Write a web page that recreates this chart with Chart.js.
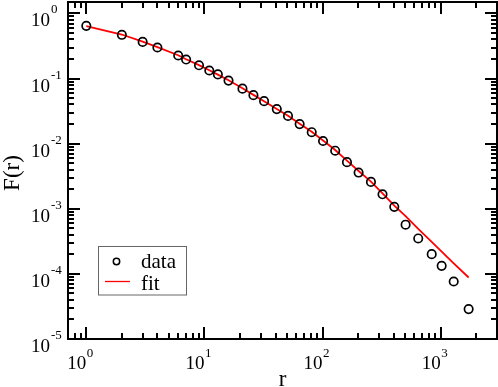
<!DOCTYPE html>
<html>
<head>
<meta charset="utf-8">
<script src="https://cdn.jsdelivr.net/npm/chart.js@4"></script>
<style>
html,body{margin:0;padding:0;background:#fff;}
canvas{display:block;}
</style>
</head>
<body>
<canvas id="c" width="498" height="387"></canvas>
<script>
const rValues = [1, 2, 3, 4, 6, 7, 9, 11, 13, 16, 21, 26, 32, 41, 51, 64, 81, 101, 128, 161, 202, 257, 322, 405, 505, 646, 840, 1020, 1290, 1726];
const dataValues = [0.645, 0.47, 0.366, 0.30, 0.226, 0.196, 0.16, 0.133, 0.116, 0.093, 0.070, 0.0556, 0.045, 0.034, 0.0267, 0.020, 0.015, 0.011, 0.0078, 0.0052, 0.0036, 0.00259, 0.00167, 0.00107, 0.00057, 0.00035, 0.000201, 0.000133, 0.0000764, 0.0000288];
const fitValues = [0.64, 0.475, 0.37, 0.305, 0.228, 0.198, 0.161, 0.134, 0.115, 0.094, 0.071, 0.0562, 0.0448, 0.0342, 0.0268, 0.0203, 0.0152, 0.0112, 0.0080, 0.0055, 0.0038, 0.00262, 0.00172, 0.00112, 0.00077, 0.00049, 0.00031, 0.000219, 0.000145, 0.000088];
const xTickExps = [0, 1, 2, 3];
const yTickExps = [0, -1, -2, -3, -4, -5];
const legendLabels = ["data", "fit"];
const axisTitles = {x: "r", y: "F(r)"};

const SERIF = '"Liberation Serif", "DejaVu Serif", serif';

const decorPlugin = {
  id: 'decor',
  afterDraw(chart) {
    const ctx = chart.ctx;
    const a = chart.chartArea;
    const xs = chart.scales.x, ys = chart.scales.y;
    ctx.save();
    ctx.strokeStyle = '#000';
    ctx.lineWidth = 2;
    ctx.strokeRect(a.left, a.top, a.right - a.left, a.bottom - a.top);
    // ticks
    ctx.lineWidth = 2;
    const major = 12, minor = 6;
    ctx.beginPath();
    for (let e = -1; e <= 4; e++) {
      for (let m = 1; m <= 9; m++) {
        const v = m * Math.pow(10, e);
        if (v < xs.min || v > xs.max) continue;
        const px = Math.round(xs.getPixelForValue(v)) + 0.0;
        const len = m === 1 ? major : minor;
        ctx.moveTo(px, a.bottom); ctx.lineTo(px, a.bottom - len);
        ctx.moveTo(px, a.top); ctx.lineTo(px, a.top + len);
      }
    }
    for (let e = -6; e <= 1; e++) {
      for (let m = 1; m <= 9; m++) {
        const v = m * Math.pow(10, e);
        if (v < ys.min * 0.999 || v > ys.max) continue;
        const py = Math.round(ys.getPixelForValue(v));
        const len = m === 1 ? major : minor;
        ctx.moveTo(a.left, py); ctx.lineTo(a.left + len, py);
        ctx.moveTo(a.right, py); ctx.lineTo(a.right - len, py);
      }
    }
    ctx.stroke();
    // tick labels
    ctx.fillStyle = '#000';
    ctx.textBaseline = 'alphabetic';
    yTickExps.forEach(e => {
      const py = ys.getPixelForValue(Math.pow(10, e));
      ctx.font = '19px ' + SERIF;
      ctx.textAlign = 'right';
      ctx.fillText('10', 50, py + 13);
      ctx.font = '13px ' + SERIF;
      ctx.textAlign = 'left';
      ctx.fillText(String(e), 51, py + 0);
    });
    xTickExps.forEach(e => {
      const px = xs.getPixelForValue(Math.pow(10, e));
      ctx.font = '19px ' + SERIF;
      ctx.textAlign = 'right';
      ctx.fillText('10', px, 368.5);
      ctx.font = '13px ' + SERIF;
      ctx.textAlign = 'left';
      ctx.fillText(String(e), px + 0.5, 357);
    });
    // axis titles
    ctx.font = '23px ' + SERIF;
    ctx.textAlign = 'center';
    ctx.fillText(axisTitles.x, (a.left + a.right) / 2, 386);
    ctx.save();
    ctx.translate(18.5, 173);
    ctx.rotate(-Math.PI / 2);
    ctx.fillText(axisTitles.y, 0, 0);
    ctx.restore();
    // legend
    ctx.strokeStyle = '#666';
    ctx.lineWidth = 1;
    ctx.strokeRect(98.5, 246.5, 88, 48.5);
    ctx.strokeStyle = '#000';
    ctx.lineWidth = 1.5;
    ctx.beginPath();
    ctx.arc(116.5, 261.5, 3.2, 0, Math.PI * 2);
    ctx.stroke();
    ctx.strokeStyle = '#ff0000';
    ctx.lineWidth = 1.3;
    ctx.beginPath();
    ctx.moveTo(105, 281.5); ctx.lineTo(130, 281.5);
    ctx.stroke();
    ctx.font = '21px ' + SERIF;
    ctx.textAlign = 'left';
    ctx.fillStyle = '#000';
    ctx.fillText(legendLabels[0], 141, 268);
    ctx.fillText(legendLabels[1], 141, 290);
    ctx.restore();
  }
};

new Chart(document.getElementById('c'), {
  data: {
    datasets: [
      {
        type: 'line',
        label: legendLabels[1],
        data: rValues.map((r, i) => ({x: r, y: fitValues[i]})),
        borderColor: '#ff0000',
        borderWidth: 1.8,
        pointRadius: 0,
        fill: false,
        tension: 0,
        order: 2
      },
      {
        type: 'scatter',
        label: legendLabels[0],
        data: rValues.map((r, i) => ({x: r, y: dataValues[i]})),
        borderColor: '#000',
        backgroundColor: 'rgba(0,0,0,0)',
        borderWidth: 1.7,
        pointRadius: 4.2,
        pointStyle: 'circle',
        order: 1
      }
    ]
  },
  options: {
    responsive: false,
    animation: false,
    devicePixelRatio: 1,
    layout: {autoPadding: false, padding: {left: 68, top: 2, right: 1, bottom: 48}},
    plugins: {legend: {display: false}, tooltip: {enabled: false}},
    scales: {
      x: {type: 'logarithmic', min: 0.7, max: 3000, display: false},
      y: {type: 'logarithmic', min: 1e-5, max: 1.5, display: false}
    }
  },
  plugins: [decorPlugin]
});
</script>
</body>
</html>
